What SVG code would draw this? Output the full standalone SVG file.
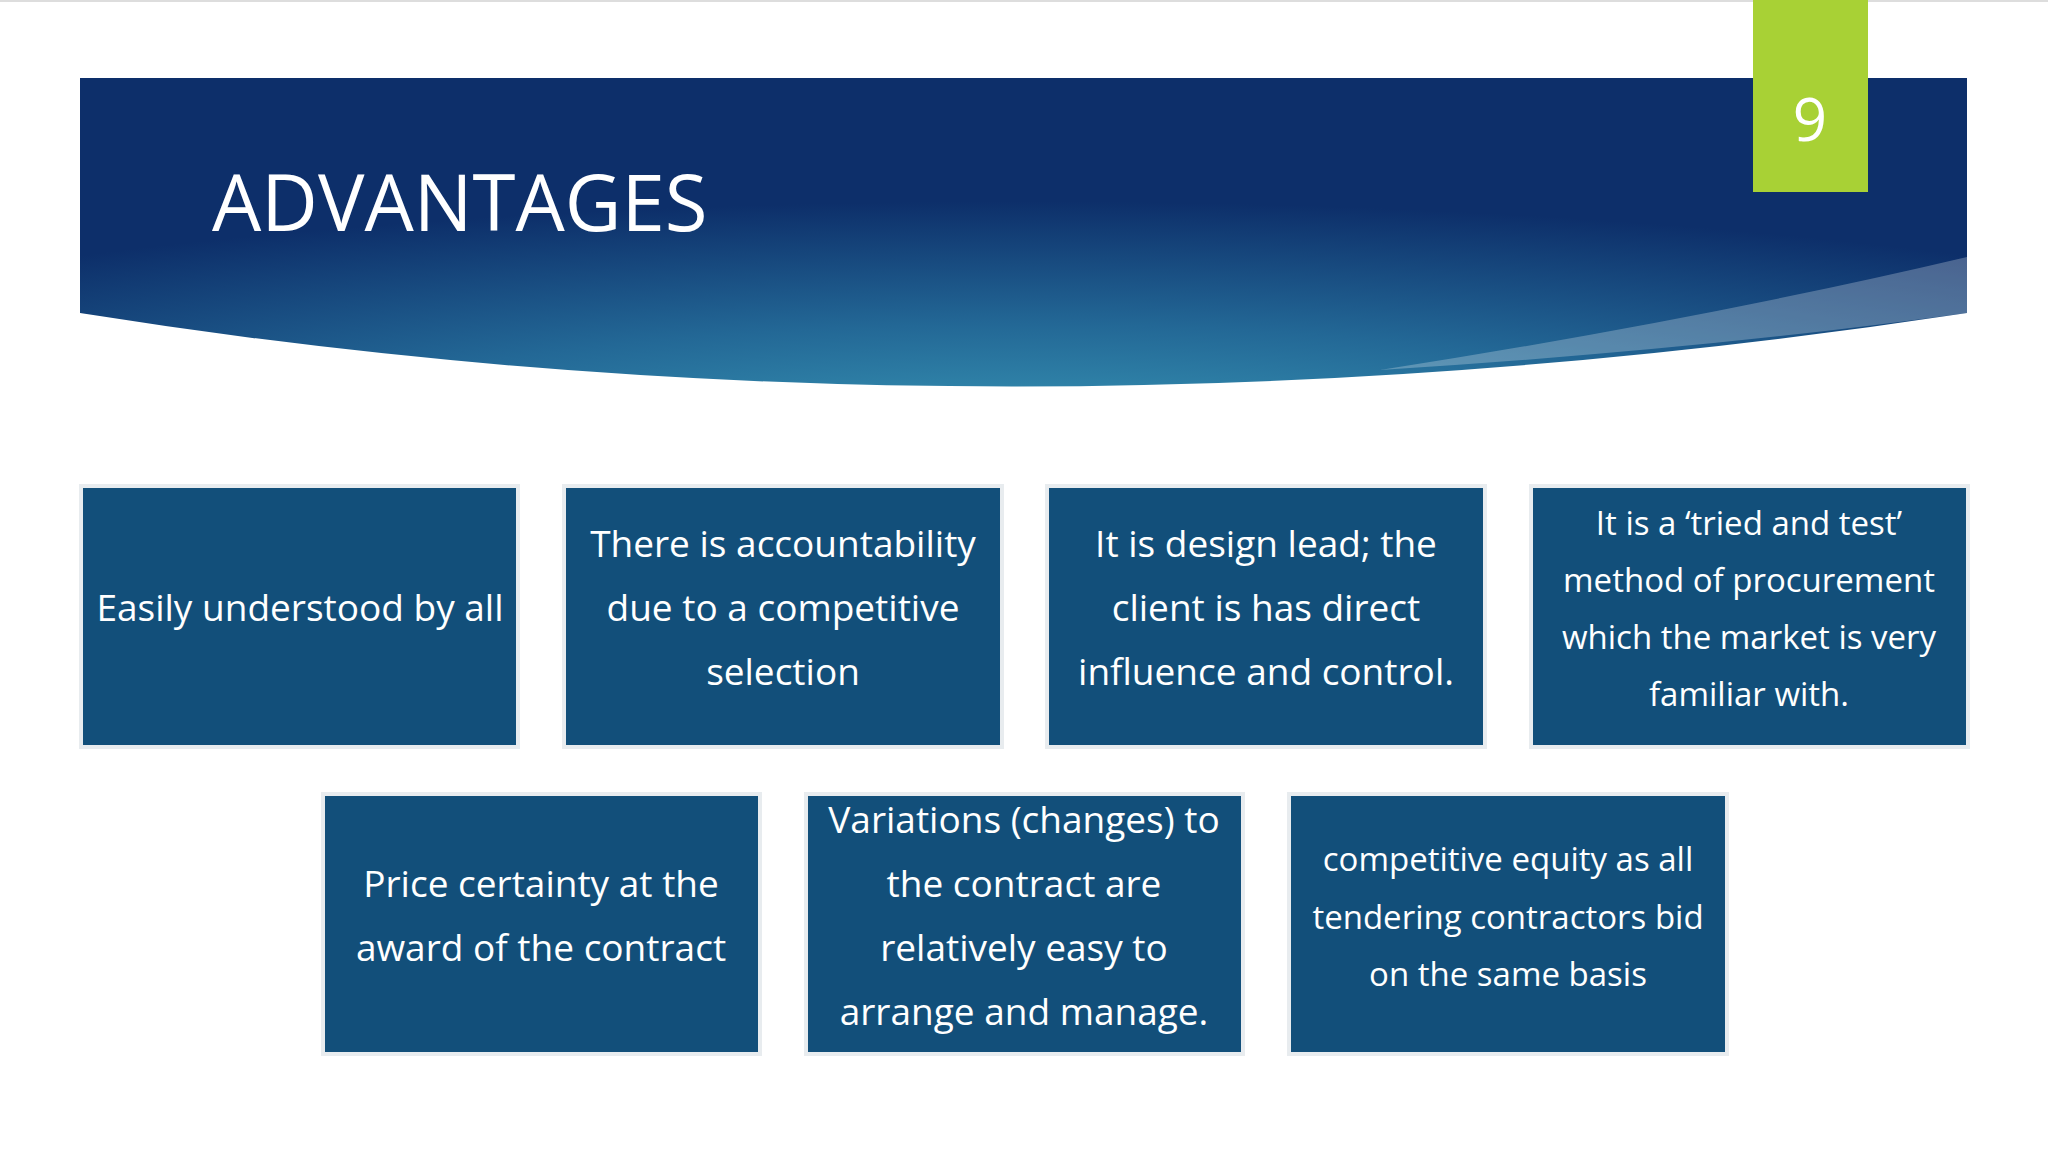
<svg xmlns="http://www.w3.org/2000/svg" width="2048" height="1152" viewBox="0 0 2048 1152">
<defs>
<radialGradient id="hg" cx="0.5" cy="1.2" r="0.8">
<stop offset="0" stop-color="#3a9ab8"/>
<stop offset="0.5" stop-color="#236896"/>
<stop offset="1" stop-color="#0d2f6a"/>
</radialGradient>
<style>
.box{fill:#124f7a;stroke:#e8ecef;stroke-width:4}
.t{font-family:"Open Sans","Noto Sans",sans-serif;fill:#fff;text-anchor:middle;dominant-baseline:central;font-size:37px}
.s{font-size:33px}
</style>
</defs>
<rect width="2048" height="1152" fill="#fff"/>
<line x1="0" y1="1" x2="2048" y2="1" stroke="#ddd" stroke-width="2"/>
<path d="M80 78 H1967 V313 Q1000 460 80 313 Z" fill="url(#hg)"/>
<path d="M1380 370 Q1700 320 1967 257 V313 Q1700 350 1380 370 Z" fill="#fff" opacity="0.25"/>
<text x="212" y="231" font-family="Open Sans, sans-serif" font-size="78" fill="#fff">ADVANTAGES</text>
<g id="pagenum">
<rect x="1753" y="0" width="115" height="192" fill="#a8d135"/>
<text x="1810" y="118" class="t" style="font-size:60px">9</text>
</g>
<g id="n1"><rect class="box" x="81" y="486" width="437" height="261"/><text class="t" x="300" y="606">Easily understood by all</text></g>
<g id="n2"><rect class="box" x="564" y="486" width="438" height="261"/><text class="t" x="783" y="542">There is accountability</text><text class="t" x="783" y="606">due to a competitive</text><text class="t" x="783" y="670">selection</text></g>
<g id="n3"><rect class="box" x="1047" y="486" width="438" height="261"/><text class="t" x="1266" y="542">It is design lead; the</text><text class="t" x="1266" y="606">client is has direct</text><text class="t" x="1266" y="670">influence and control.</text></g>
<g id="n4"><rect class="box" x="1531" y="486" width="437" height="261"/><text class="t s" x="1749" y="522">It is a ‘tried and test’</text><text class="t s" x="1749" y="579">method of procurement</text><text class="t s" x="1749" y="636">which the market is very</text><text class="t s" x="1749" y="693">familiar with.</text></g>
<g id="n5"><rect class="box" x="323" y="794" width="437" height="260"/><text class="t" x="541" y="882">Price certainty at the</text><text class="t" x="541" y="946">award of the contract</text></g>
<g id="n6"><rect class="box" x="806" y="794" width="437" height="260"/><text class="t" x="1024" y="818">Variations (changes) to</text><text class="t" x="1024" y="882">the contract are</text><text class="t" x="1024" y="946">relatively easy to</text><text class="t" x="1024" y="1010">arrange and manage.</text></g>
<g id="n7"><rect class="box" x="1289" y="794" width="438" height="260"/><text class="t s" x="1508" y="858">competitive equity as all</text><text class="t s" x="1508" y="916">tendering contractors bid</text><text class="t s" x="1508" y="973">on the same basis</text></g>
<g id="connectors"/>
</svg>
